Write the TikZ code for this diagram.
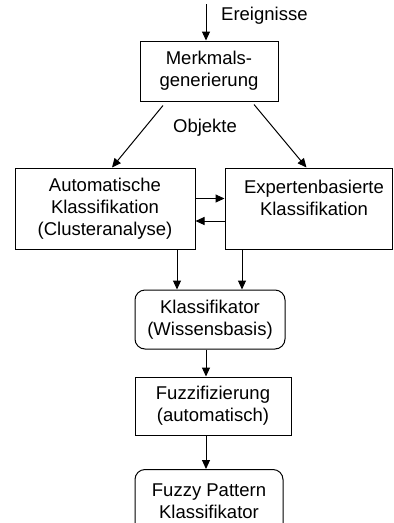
\documentclass[tikz,border=0pt]{standalone}
\usepackage{fontspec}
\setmainfont{Liberation Sans}
\usetikzlibrary{arrows.meta,positioning,calc}
\tikzset{
  >={Triangle[length=9pt,width=8pt]},
  box/.style={draw,line width=1pt,inner sep=0pt,align=center,
    font=\fontsize{18.5}{21.75}\selectfont},
  rbox/.style={box,rounded corners=10pt},
  lab/.style={font=\fontsize{18.5}{21.75}\selectfont,inner sep=0pt},
  arr/.style={->,line width=1pt},
}
\begin{document}
\begin{tikzpicture}[x=1pt,y=-1pt]
\useasboundingbox (0,0) rectangle (394,523);
\node[box,minimum width=138pt,minimum height=60pt] (merk) at (209,71) {Merkmals-\\generierung};
\node[box,minimum width=180pt,minimum height=81pt] (auto) at (105,208.5) {Automatische\\Klassifikation\\(Clusteranalyse)};
\node[box,minimum width=167pt,minimum height=81pt] (expert) at (308.5,208.5) {\hspace*{11pt}Expertenbasierte\\\hspace*{11pt}Klassifikation\\\mbox{}};
\node[rbox,minimum width=150pt,minimum height=59pt] (klass) at (210,319.5) {Klassifikator\\(Wissensbasis)};
\node[box,minimum width=156pt,minimum height=58pt] (fuzz) at (213,406) {Fuzzifizierung\\(automatisch)};
\node[rbox,minimum width=148pt,minimum height=64pt] (fpk) at (209,501.5) {Fuzzy Pattern\\Klassifikator};
% Eingang
\coordinate (ein) at (206,4);
\draw[arr] (ein) -- (ein |- merk.north);
\node[lab,anchor=west] (ereig) at (221,16) {Ereignisse};
% Objekte
\node[lab] (obj) at (205,128) {Objekte};
\draw[arr] ([xshift=-46pt,yshift=-4pt]merk.south) -- ([xshift=7pt]auto.north);
\draw[arr] ([xshift=45pt,yshift=-3pt]merk.south) -- ([xshift=-2pt]expert.north);
% Austausch
\draw[arr] ([yshift=10pt]auto.east) -- ([yshift=10pt]expert.west);
\draw[arr] ([yshift=-12.5pt]expert.west) -- ([yshift=-12.5pt]auto.east);
% nach unten
\draw[arr] ([xshift=72pt]auto.south) -- ([xshift=72pt]auto.south |- klass.north);
\draw[arr] ([xshift=-66.5pt]expert.south) -- ([xshift=-66.5pt]expert.south |- klass.north);
\draw[arr] ([xshift=-4pt]klass.south) -- ([xshift=-4pt]klass.south |- fuzz.north);
\draw[arr] ([xshift=-7pt]fuzz.south) -- ([xshift=-7pt]fuzz.south |- fpk.north);
\end{tikzpicture}
\end{document}
